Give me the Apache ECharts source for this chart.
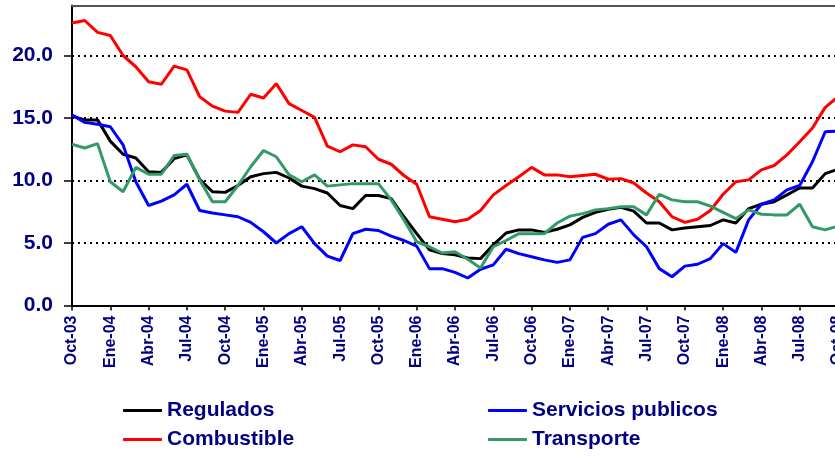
<!DOCTYPE html>
<html>
<head>
<meta charset="utf-8">
<script src="https://cdn.jsdelivr.net/npm/echarts@6/dist/echarts.min.js"></script>
<style>
html,body{margin:0;padding:0;background:#fff;}
#c{width:835px;height:456px;}
</style>
</head>
<body>
<div id="c"></div>
<script>
const categories = [
 'Oct-03','Nov-03','Dic-03',
 'Ene-04','Feb-04','Mar-04','Abr-04','May-04','Jun-04','Jul-04','Ago-04','Sep-04','Oct-04','Nov-04','Dic-04',
 'Ene-05','Feb-05','Mar-05','Abr-05','May-05','Jun-05','Jul-05','Ago-05','Sep-05','Oct-05','Nov-05','Dic-05',
 'Ene-06','Feb-06','Mar-06','Abr-06','May-06','Jun-06','Jul-06','Ago-06','Sep-06','Oct-06','Nov-06','Dic-06',
 'Ene-07','Feb-07','Mar-07','Abr-07','May-07','Jun-07','Jul-07','Ago-07','Sep-07','Oct-07','Nov-07','Dic-07',
 'Ene-08','Feb-08','Mar-08','Abr-08','May-08','Jun-08','Jul-08','Ago-08','Sep-08','Oct-08'
];

const regulados = [
 15.15,14.85,14.85,13.15,12.1,11.8,10.7,10.65,11.75,12.05,10.1,9.1,9.05,9.6,10.3,
 10.55,10.65,10.2,9.55,9.35,9.0,8.0,7.75,8.8,8.8,8.55,7.1,5.75,4.45,4.15,
 4.05,3.8,3.75,4.85,5.8,6.05,6.05,5.85,6.1,6.45,7.05,7.45,7.7,7.85,7.55,
 6.6,6.6,6.05,6.2,6.3,6.4,6.85,6.6,7.75,8.1,8.3,8.85,9.4,9.4,10.55,10.9
];

const servicios = [
 15.25,14.65,14.5,14.3,12.85,9.9,8.0,8.35,8.85,9.7,7.6,7.4,7.25,7.1,6.65,
 5.9,5.0,5.75,6.3,4.95,3.95,3.6,5.75,6.1,6.0,5.55,5.2,4.75,2.95,2.95,
 2.65,2.2,2.9,3.25,4.5,4.15,3.9,3.65,3.45,3.65,5.45,5.75,6.5,6.85,5.65,
 4.7,2.95,2.3,3.15,3.3,3.75,4.95,4.25,6.85,8.1,8.45,9.25,9.6,11.5,13.9,13.95
];

const combustible = [
 22.6,22.8,21.85,21.6,20.0,19.1,17.9,17.7,19.15,18.85,16.7,15.95,15.55,15.45,16.9,
 16.6,17.75,16.15,15.6,15.05,12.75,12.3,12.85,12.7,11.7,11.3,10.4,9.7,7.1,6.9,
 6.7,6.9,7.6,8.85,9.6,10.3,11.05,10.45,10.45,10.3,10.4,10.5,10.1,10.15,9.8,
 9.0,8.3,7.1,6.65,6.9,7.6,8.9,9.9,10.05,10.85,11.2,12.05,13.1,14.2,15.85,16.7
];

const transporte = [
 12.9,12.6,12.95,9.9,9.1,11.05,10.5,10.5,12.0,12.1,10.05,8.3,8.3,9.6,11.1,
 12.4,11.9,10.45,9.9,10.45,9.55,9.65,9.75,9.75,9.75,8.45,6.85,5.1,4.7,4.2,
 4.3,3.7,3.0,4.7,5.2,5.75,5.75,5.75,6.6,7.15,7.35,7.65,7.75,7.9,7.9,
 7.25,8.9,8.45,8.3,8.3,7.95,7.45,6.95,7.65,7.3,7.25,7.25,8.1,6.3,6.05,6.35
];

const navy = '#000080';
const fontFam = '"Liberation Sans", Arial, sans-serif';

const chart = echarts.init(document.getElementById('c'), null, {renderer: 'canvas'});

function line(name, data, color) {
  return {
    name: name, type: 'line', data: data, symbol: 'none', showSymbol: false,
    lineStyle: {color: color, width: 3}, itemStyle: {color: color},
    animation: false
  };
}

const legendText = {color: navy, fontFamily: fontFam, fontWeight: 'bold', fontSize: 21, lineHeight: 21};

chart.setOption({
  backgroundColor: '#ffffff',
  animation: false,
  grid: {left: 72, top: 5.5, width: 766, height: 300, containLabel: false, outerBoundsMode: 'none'},
  xAxis: [{
    type: 'category',
    data: categories,
    boundaryGap: false,
    axisLine: {lineStyle: {color: '#000', width: 2}},
    axisTick: {show: true, interval: 2, length: 5, lineStyle: {color: '#000', width: 1.5}},
    axisLabel: {interval: 2, rotate: 90, margin: 10, color: navy, fontFamily: fontFam, fontWeight: 'bold', fontSize: 16, hideOverlap: false},
    splitLine: {show: false}
  }, {
    type: 'category',
    position: 'top',
    data: categories,
    boundaryGap: false,
    axisLine: {show: true, lineStyle: {color: '#555', width: 2}},
    axisTick: {show: false},
    axisLabel: {show: false},
    splitLine: {show: false}
  }],
  yAxis: {
    type: 'value',
    min: 0, max: 24, interval: 5,
    axisLine: {show: true, lineStyle: {color: '#000', width: 2}},
    axisTick: {show: true, length: 8, lineStyle: {color: '#000', width: 1.5}},
    axisLabel: {
      margin: 19, color: navy, fontFamily: fontFam, fontWeight: 'bold', fontSize: 21,
      showMaxLabel: false,
      formatter: function (v) { return v.toFixed(1); }
    },
    splitLine: {show: true, lineStyle: {color: '#000', width: 2, type: [2, 4]}}
  },
  legend: [{
    orient: 'vertical', left: 123, top: 400, padding: 0, itemGap: 8,
    itemWidth: 39, itemHeight: 3, icon: 'roundRect',
    data: ['Regulados', 'Combustible'],
    textStyle: legendText
  }, {
    orient: 'vertical', left: 488, top: 400, padding: 0, itemGap: 8,
    itemWidth: 39, itemHeight: 3, icon: 'roundRect',
    data: ['Servicios publicos', 'Transporte'],
    textStyle: legendText
  }],
  series: [
    line('Regulados', regulados, '#000000'),
    line('Servicios publicos', servicios, '#0000FF'),
    line('Combustible', combustible, '#FF0000'),
    line('Transporte', transporte, '#339966')
  ]
});
</script>
</body>
</html>
